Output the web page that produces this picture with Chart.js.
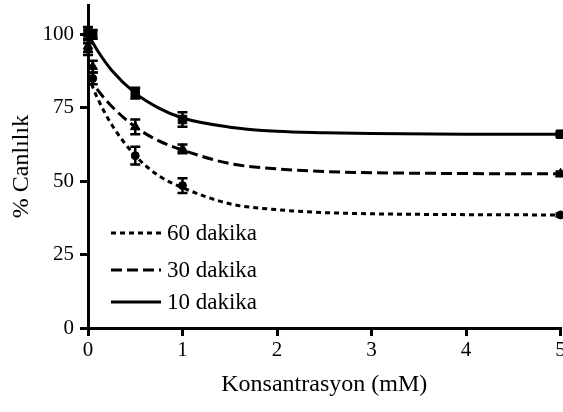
<!DOCTYPE html>
<html>
<head>
<meta charset="utf-8">
<script src="https://cdn.jsdelivr.net/npm/chart.js@4.4.1/dist/chart.umd.min.js"></script>
<style>
  html, body { margin: 0; padding: 0; background: #fff; }
  #wrap { width: 563px; height: 412px; }
</style>
</head>
<body>
<div id="wrap"><canvas id="c" width="563" height="412"></canvas></div>
<script>
// ---- data ----
const concentrations = [0, 0.05, 0.5, 1, 5];
const viab10 = [100.5, 100, 80, 71, 66];
const err10  = [2, 1.5, 1.8, 2.5, 0.8];
const viab30 = [96, 89, 68.5, 61, 52.5];
const err30  = [2, 2, 2.5, 1.5, 0.8];
const viab60 = [95, 85, 58.7, 48.5, 38.5];
const err60  = [2, 2, 3, 2.5, 0.5];

// fitted curves
const fitX  = [0, 0.1, 0.25, 0.5, 0.75, 1, 1.5, 2, 2.5, 3, 4, 5];
const fit10 = [100, 94.5, 87.8, 80, 74.9, 71.5, 68.4, 67, 66.5, 66.2, 66, 66];
const fit30 = [86, 81.2, 75.5, 68.5, 63.7, 60.6, 56, 54.2, 53.3, 52.9, 52.6, 52.5];
const fit60 = [86, 78.3, 69.3, 58.7, 51.8, 47.8, 42.3, 40.3, 39.3, 38.9, 38.6, 38.5];

const xTicks = [0, 1, 2, 3, 4, 5];
const yTicks = [0, 25, 50, 75, 100];
const legendLabels = ['60 dakika', '30 dakika', '10 dakika'];
const xTitle = 'Konsantrasyon (mM)';
const yTitle = '% Canlılık';

const FONT = '"Liberation Serif", "Times New Roman", serif';

function pts(xs, ys) { return xs.map((x, i) => ({ x: x, y: ys[i] })); }

const lineStyles = {
  60: [5, 4],
  30: [11, 5],
  10: []
};

const datasets = [
  { label: legendLabels[2], data: pts(fitX, fit10), borderColor: '#000', borderWidth: 3, borderDash: lineStyles[10], pointRadius: 0, showLine: true, cubicInterpolationMode: 'monotone', fill: false },
  { label: legendLabels[1], data: pts(fitX, fit30), borderColor: '#000', borderWidth: 3, borderDash: lineStyles[30], pointRadius: 0, showLine: true, cubicInterpolationMode: 'monotone', fill: false },
  { label: legendLabels[0], data: pts(fitX, fit60), borderColor: '#000', borderWidth: 3, borderDash: lineStyles[60], pointRadius: 0, showLine: true, cubicInterpolationMode: 'monotone', fill: false },
  { label: 'p10', data: pts(concentrations, viab10), err: err10, showLine: false, clip: false, pointStyle: 'rect', pointRadius: 6, backgroundColor: '#000', borderColor: '#000' },
  { label: 'p30', data: pts(concentrations, viab30), err: err30, showLine: false, clip: false, pointStyle: 'triangle', pointRadius: 5.5, backgroundColor: '#000', borderColor: '#000' },
  { label: 'p60', data: pts(concentrations, viab60), err: err60, showLine: false, clip: false, pointStyle: 'circle', pointRadius: 4, backgroundColor: '#000', borderColor: '#000' }
];

const errorBars = {
  id: 'errorBars',
  afterDatasetsDraw(chart) {
    const ctx = chart.ctx;
    const xs = chart.scales.x, ys = chart.scales.y;
    ctx.save();
    ctx.strokeStyle = '#000';
    ctx.lineWidth = 2.5;
    chart.data.datasets.forEach(ds => {
      if (!ds.err) return;
      ds.data.forEach((p, i) => {
        const e = ds.err[i];
        const px = xs.getPixelForValue(p.x);
        const top = ys.getPixelForValue(p.y + e);
        const bot = ys.getPixelForValue(p.y - e);
        ctx.beginPath();
        ctx.moveTo(px, top); ctx.lineTo(px, bot);
        ctx.moveTo(px - 5, top); ctx.lineTo(px + 5, top);
        ctx.moveTo(px - 5, bot); ctx.lineTo(px + 5, bot);
        ctx.stroke();
      });
    });
    ctx.restore();
  }
};

// x tick labels drawn at the scale's own tick positions (no edge padding, like the reference)
const xTickLabels = {
  id: 'xTickLabels',
  afterDraw(chart) {
    const ctx = chart.ctx;
    const xs = chart.scales.x;
    ctx.save();
    ctx.fillStyle = '#000';
    ctx.font = '21px ' + FONT;
    ctx.textAlign = 'center';
    ctx.textBaseline = 'middle';
    xTicks.forEach(v => {
      ctx.fillText(String(v), xs.getPixelForValue(v), xs.top + 22);
    });
    ctx.restore();
  }
};

const insetLegend = {
  id: 'insetLegend',
  afterDraw(chart) {
    const ctx = chart.ctx;
    const a = chart.chartArea;
    const rows = [
      { label: legendLabels[0], dash: lineStyles[60], y: a.top + 228 },
      { label: legendLabels[1], dash: lineStyles[30], y: a.top + 265 },
      { label: legendLabels[2], dash: lineStyles[10], y: a.top + 297 }
    ];
    ctx.save();
    rows.forEach(r => {
      ctx.strokeStyle = '#000';
      ctx.lineWidth = 3;
      ctx.setLineDash(r.dash);
      ctx.beginPath();
      ctx.moveTo(a.left + 23, r.y);
      ctx.lineTo(a.left + 73, r.y);
      ctx.stroke();
      ctx.setLineDash([]);
      ctx.fillStyle = '#000';
      ctx.font = '23px ' + FONT;
      ctx.textBaseline = 'middle';
      ctx.textAlign = 'left';
      ctx.fillText(r.label, a.left + 79, r.y + 1);
    });
    ctx.restore();
  }
};

new Chart(document.getElementById('c'), {
  type: 'scatter',
  data: { datasets: datasets },
  plugins: [errorBars, xTickLabels, insetLegend],
  options: {
    responsive: false,
    animation: false,
    events: [],
    layout: { autoPadding: false, padding: { top: 5, right: 2.5, left: 0, bottom: 0 } },
    plugins: { legend: { display: false }, tooltip: { enabled: false } },
    scales: {
      x: {
        type: 'linear',
        min: 0, max: 5,
        afterBuildTicks(s) { s.ticks = xTicks.map(v => ({ value: v })); },
        afterFit(s) { s.height = 84; },
        border: { display: true, color: '#000', width: 3 },
        grid: { display: true, drawOnChartArea: false, drawTicks: true, tickLength: 8, lineWidth: 3, color: '#000' },
        ticks: { display: false },
        title: { display: true, text: xTitle, color: '#000', font: { family: FONT, size: 24 }, padding: { top: 0, bottom: 13 } }
      },
      y: {
        type: 'linear',
        min: 0, max: 110,
        afterBuildTicks(s) { s.ticks = yTicks.map(v => ({ value: v })); },
        afterFit(s) { s.width = 88; s.paddingTop = 0; s.paddingBottom = 0; },
        border: { display: true, color: '#000', width: 3 },
        grid: { display: true, drawOnChartArea: false, drawTicks: true, tickLength: 8, lineWidth: 3, color: '#000' },
        ticks: { color: '#000', font: { family: FONT, size: 21 }, padding: 6 },
        title: { display: true, text: yTitle, color: '#000', font: { family: FONT, size: 24 }, padding: { top: 7, bottom: 0 } }
      }
    }
  }
});
</script>
</body>
</html>
